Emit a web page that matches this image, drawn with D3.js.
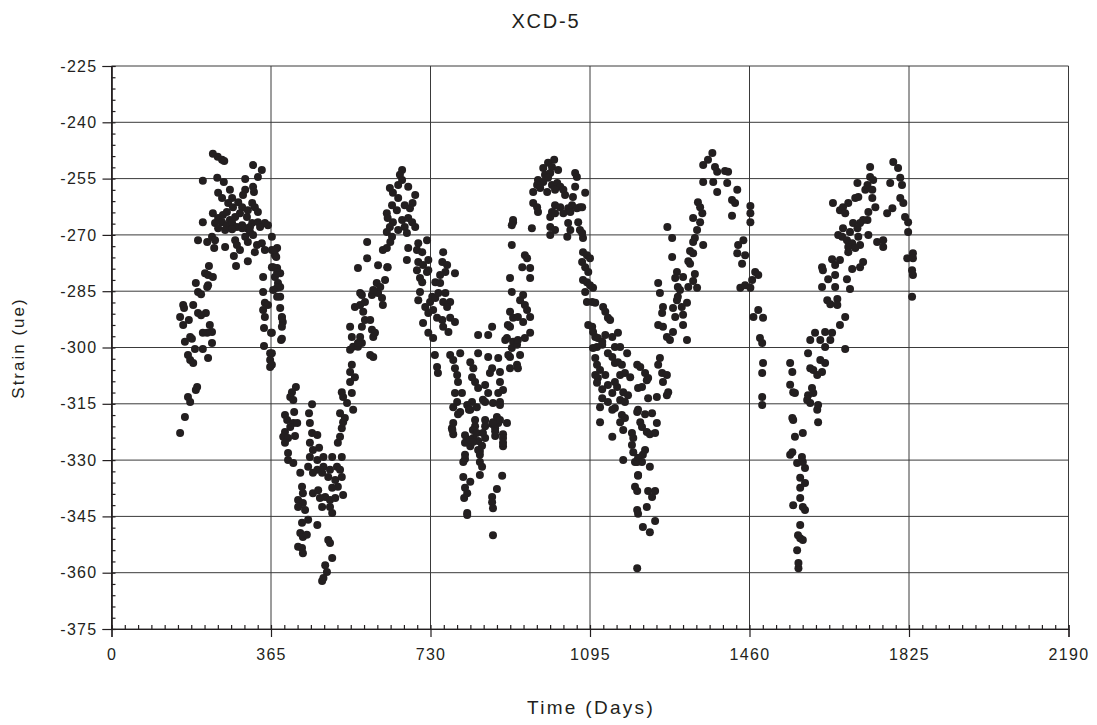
<!DOCTYPE html>
<html>
<head>
<meta charset="utf-8">
<title>XCD-5</title>
<script src="https://cdn.jsdelivr.net/npm/d3@7/dist/d3.min.js"></script>
<style>
  html, body { margin: 0; padding: 0; background: #fff; }
  svg { display: block; }
  text { font-family: "Liberation Sans", Arial, sans-serif; fill: #231f20; }
</style>
</head>
<body>
<svg id="chart" width="1097" height="725"></svg>
<script>
// Strain readings per seasonal swing: [day, strain (ue)]
const swing1 = [
  [232,-248.4],[243,-249.2],[253,-250.0],[258,-250.3],[324,-251.4],[344,-252.7],[209,-255.6],[242,-254.8],[257,-255.9],[306,-255.1],
  [335,-254.6],[324,-257.2],[306,-258.0],[301,-259.4],[326,-258.6],[244,-258.8],[271,-258.0],[253,-260.2],[276,-260.2],[267,-261.5],
  [278,-262.6],[290,-261.3],[299,-262.6],[322,-261.5],[328,-262.6],[312,-263.4],[335,-263.9],[310,-265.2],[294,-264.2],[232,-264.2],
  [244,-265.5],[255,-264.7],[264,-263.9],[271,-266.0],[283,-265.2],[209,-266.6],[237,-266.8],[253,-266.6],[264,-267.4],[276,-266.8],
  [287,-267.9],[299,-267.4],[310,-268.2],[322,-266.8],[335,-266.6],[351,-266.8],[358,-267.4],[244,-268.2],[260,-268.7],[276,-268.5],
  [299,-268.2],[317,-269.2],[306,-270.5],[324,-270.0],[340,-267.9],[317,-267.9],[367,-270.5],[198,-271.4],[219,-271.9],[230,-270.5],
  [237,-271.4],[235,-273.5],[260,-273.2],[283,-271.4],[287,-272.7],[294,-274.0],[312,-271.9],[333,-272.7],[328,-274.6],[344,-272.2],
  [351,-274.0],[367,-274.0],[374,-275.4],[379,-273.5],[280,-275.6],[285,-278.3],[312,-277.0],[367,-278.6],[379,-278.8],[386,-280.2],
  [374,-281.2],[381,-282.8],[386,-283.9],[379,-284.1],[386,-286.5],[390,-291.9],[392,-293.2],[390,-294.5],[388,-298.0],[379,-286.5],
  [347,-281.2],[347,-285.2],[351,-288.1],[358,-288.7],[347,-290.0],[351,-291.9],[349,-294.8],[365,-296.1],[349,-299.6],[363,-301.5],
  [363,-303.3],[363,-305.2],[223,-278.3],[214,-280.2],[221,-280.7],[232,-281.2],[221,-283.4],[193,-282.8],[198,-285.2],[205,-285.8],
  [219,-283.9],[164,-288.7],[166,-289.5],[187,-288.7],[157,-291.9],[177,-292.7],[164,-294.0],[198,-290.8],[216,-290.8],[205,-291.4],
  [225,-294.0],[230,-295.9],[219,-296.1],[209,-296.1],[180,-297.2],[184,-297.7],[168,-298.5],[230,-298.8],[209,-300.4],[191,-300.4],
  [175,-302.0],[180,-303.3],[187,-304.1],[221,-302.8],[196,-310.5],[193,-311.3],[175,-313.2],[180,-314.5],[168,-318.5],[157,-322.8],
  [374,-274.1],[377,-275.9],[370,-278.6],[379,-280.0],[370,-284.7],[386,-289.5],[390,-292.1],[390,-297.7],[367,-296.1],[367,-301.5],
  [367,-304.6]
];

const swing2 = [
  [422,-310.5],[413,-311.9],[409,-313.2],[416,-314.0],[459,-315.1],[452,-317.5],[418,-317.2],[397,-318.0],[402,-319.3],[416,-320.1],
  [425,-320.1],[409,-321.2],[397,-322.5],[393,-323.8],[404,-324.1],[420,-323.6],[397,-325.4],[404,-328.1],[404,-330.0],[416,-330.8],
  [432,-333.4],[454,-320.1],[459,-322.8],[471,-323.3],[454,-325.4],[461,-327.3],[475,-326.7],[454,-329.2],[471,-330.0],[485,-329.2],
  [505,-329.2],[450,-331.8],[471,-332.6],[485,-331.8],[500,-332.6],[516,-331.8],[527,-329.2],[523,-332.6],[461,-333.4],[482,-333.4],
  [496,-334.5],[512,-335.3],[527,-334.5],[518,-337.1],[530,-339.3],[505,-337.4],[489,-339.8],[477,-340.1],[461,-338.8],[473,-338.0],
  [500,-340.6],[512,-340.1],[500,-342.5],[505,-344.1],[482,-342.5],[436,-337.1],[438,-338.8],[427,-340.6],[438,-341.4],[427,-342.5],
  [443,-343.3],[450,-345.9],[436,-346.7],[432,-349.4],[438,-350.5],[447,-349.9],[427,-353.1],[436,-353.4],[438,-354.8],[471,-347.3],
  [496,-351.3],[500,-352.1],[505,-356.1],[489,-358.0],[493,-359.8],[485,-361.4],[482,-362.2],
  [518,-325.4],[523,-323.8],[527,-321.5],[530,-319.9],[534,-318.8],[523,-317.5],[553,-316.6],[539,-314.8],[530,-313.2],[527,-311.9],
  [550,-312.1],[546,-309.2],[557,-307.9],[546,-306.5],[550,-304.6],[546,-300.6],[553,-299.8],[564,-299.8],[573,-298.8],[592,-302.0],
  [599,-302.5],[546,-294.5],[550,-297.2],[564,-298.8],[569,-297.2],[557,-289.2],[569,-288.7],[576,-290.5],[580,-292.7],[573,-294.5],
  [592,-292.7],[596,-295.3],[599,-297.2],[603,-296.1],[569,-285.5],[573,-286.0],[580,-287.9],[585,-276.2],[564,-278.8],[610,-278.1],
  [607,-282.8],[610,-285.5],[619,-286.8],[621,-288.7],[596,-286.0],[599,-284.7],[615,-283.9],[631,-278.6],[585,-271.9],[621,-274.0],
  [638,-271.9],
  [665,-252.7],[660,-254.0],[665,-255.4],[656,-256.7],[637,-257.5],[679,-257.2],[644,-258.8],[695,-259.4],[656,-260.2],[642,-262.1],
  [671,-262.1],[689,-261.5],[683,-262.9],[653,-263.4],[630,-264.2],[632,-265.5],[644,-266.6],[665,-266.0],[679,-265.5],[688,-266.6],
  [695,-267.9],[671,-267.9],[656,-268.7],[637,-267.9],[630,-269.2],[642,-270.5],[676,-269.5],[630,-273.5],[632,-278.6],[626,-282.0],
  [679,-273.5],[676,-276.7],
  [702,-272.2],[699,-274.0],[711,-274.6],[722,-271.4],[702,-277.2],[713,-278.0],[699,-279.4],[725,-276.7],[722,-279.9],[706,-281.5],
  [711,-282.6],[725,-279.4],[759,-274.6],[757,-277.2],[768,-278.0],[764,-279.9],[752,-280.7],[786,-280.2],[741,-282.6],[752,-282.8],
  [706,-285.2],[702,-287.4],[718,-289.2],[729,-287.9],[734,-286.5],[741,-286.8],[748,-285.5],[764,-285.5],[759,-287.9],[775,-287.9],
  [768,-289.2],[736,-290.0],[725,-290.8],[745,-292.1],[757,-292.7],[713,-293.5],[725,-296.1],[736,-297.5],[759,-294.5],[771,-295.9],
  [775,-292.1],[786,-293.2]
];

const swing3 = [
  [740,-302.0],[745,-305.2],[747,-306.8],[775,-302.0],[782,-303.3],[786,-305.5],[791,-307.3],[793,-309.2],[798,-301.5],[821,-303.9],
  [828,-305.5],[825,-307.9],[832,-309.2],[839,-310.8],[855,-310.0],[866,-306.8],[871,-305.5],[889,-306.5],[889,-309.2],[896,-311.3],
  [885,-312.1],[889,-314.5],[862,-312.1],[850,-313.9],[786,-312.1],[802,-312.1],[791,-314.5],[798,-317.2],[825,-314.5],[836,-315.9],
  [821,-316.6],[779,-321.5],[782,-323.1],[832,-321.0],[855,-321.0],[871,-320.4],[885,-320.1],[878,-321.5],[896,-323.1],[896,-326.3],
  [878,-323.6],[855,-324.1],[839,-324.9],[828,-324.1],[821,-326.3],[809,-325.4],[843,-327.6],[809,-329.7],
  [782,-315.9],[793,-317.8],[814,-315.3],[818,-316.6],[855,-314.5],[873,-314.8],[889,-315.3],[782,-320.1],[780,-322.0],[832,-319.3],
  [855,-319.3],[873,-319.9],[882,-318.5],[889,-319.3],[905,-320.1],[809,-323.4],[827,-322.0],[836,-322.8],[820,-324.6],[827,-325.2],
  [850,-322.8],[878,-322.3],[896,-324.1],[896,-325.4],[848,-326.2],[839,-327.3],[843,-328.6],[809,-328.6],[805,-330.5],[843,-330.5],
  [848,-331.8],[843,-334.0],[805,-334.5],[821,-335.8],[894,-334.2],[809,-337.4],[814,-338.8],[882,-337.7],[871,-339.8],[871,-341.2],
  [807,-340.1],[873,-342.8],[814,-344.1],[814,-344.6],[873,-350.0],
  [919,-266.6],[916,-272.7],[912,-281.5],[916,-285.2],[912,-290.5],[907,-294.0],[871,-294.5],[862,-296.7],[839,-296.7],[919,-298.5],
  [901,-298.0],[916,-300.1],[912,-302.5],[885,-302.8],[862,-302.5],[839,-301.5],
  [946,-275.4],[951,-276.2],[940,-278.6],[958,-278.8],[958,-281.5],[942,-286.0],[935,-287.4],[946,-288.7],[951,-290.0],[958,-291.9],
  [919,-292.1],[930,-291.9],[942,-293.2],[912,-294.5],[905,-297.5],[908,-302.0],[912,-305.5],[928,-299.3],[935,-302.0],[946,-297.5],
  [958,-296.1],[930,-298.0],[928,-304.6],[930,-305.5],
  [1013,-250.0],[999,-250.8],[1008,-251.9],[988,-252.2],[1022,-252.7],[992,-254.0],[1004,-253.5],[976,-255.4],[988,-255.9],[999,-254.8],
  [974,-256.7],[1008,-256.7],[1020,-256.2],[1027,-257.2],[1034,-258.0],[965,-258.6],[981,-257.5],[997,-258.6],[1015,-258.0],[1038,-259.4],
  [1061,-253.5],[1065,-254.6],[1061,-257.2],[1084,-258.8],[1056,-259.9],[1054,-262.1],[1065,-262.9],[1072,-262.6],[1077,-262.6],[1015,-262.1],
  [1027,-262.6],[965,-261.5],[974,-262.6],[976,-263.9],[1008,-263.9],[1004,-265.2],[1015,-264.2],[1034,-264.2],[1045,-262.9],[1050,-263.9],
  [919,-266.0],[916,-267.4],[962,-268.2],[1004,-267.9],[1015,-268.7],[1045,-266.8],[1050,-268.7],[1068,-266.6],[1004,-270.0],[1043,-270.5],
  [1072,-268.7],[1079,-270.8],[1077,-269.5],
  [1079,-274.6],[1088,-275.4],[1095,-276.2],[1077,-277.2],[1084,-278.6],[1091,-279.9],[1079,-282.0],[1088,-282.6],[1095,-283.4],[1102,-284.1],
  [1084,-285.2],[1088,-287.9],[1100,-287.9],[1107,-288.1],[1125,-289.2],[1130,-290.5],[1136,-292.1],[1141,-292.7],[1091,-294.0],[1100,-294.5],
  [1102,-295.9],[1107,-297.2],[1113,-297.5],[1123,-298.5],[1130,-296.7],[1146,-297.2],[1159,-296.1],[1111,-299.9],[1123,-299.3],[1102,-300.1],
  [1152,-299.9],[1164,-299.9],[1180,-301.5]
];

const swing4 = [
  [1107,-302.8],[1111,-304.6],[1107,-307.3],[1118,-306.0],[1113,-308.1],[1130,-307.3],[1136,-301.5],[1146,-302.5],[1152,-304.1],[1159,-303.9],
  [1168,-304.6],[1164,-307.3],[1175,-306.8],[1187,-307.9],[1136,-310.0],[1146,-312.1],[1157,-310.5],[1152,-309.2],[1123,-311.1],[1111,-309.4],
  [1123,-313.5],[1118,-315.9],[1136,-314.5],[1146,-316.6],[1152,-316.1],[1164,-314.0],[1171,-311.9],[1175,-314.5],[1182,-312.7],[1168,-318.0],
  [1175,-318.8],[1171,-322.0],[1146,-323.8],[1118,-319.9],[1164,-319.9],[1203,-304.6],[1205,-310.8],[1203,-317.2],[1191,-322.8],[1194,-324.1],
  [1191,-326.0],[1194,-327.9],[1171,-330.0],[1198,-330.5],[1205,-334.0],[1198,-337.1],[1203,-343.3],
  [1210,-305.2],[1221,-306.8],[1228,-308.1],[1214,-310.5],[1225,-308.7],[1255,-302.8],[1251,-304.6],[1260,-306.8],[1271,-307.3],[1262,-309.2],
  [1274,-311.9],[1271,-312.7],[1248,-313.2],[1228,-313.5],[1205,-316.6],[1221,-317.8],[1237,-317.5],[1248,-320.1],[1210,-319.9],[1214,-321.2],
  [1225,-322.5],[1232,-323.1],[1244,-322.8],[1221,-327.3],[1216,-328.6],[1205,-329.4],[1203,-330.5],[1214,-330.5],[1232,-331.8],[1205,-334.2],
  [1203,-338.2],[1228,-338.2],[1244,-338.2],[1237,-339.8],[1225,-342.5],[1205,-344.3],[1244,-346.2],[1216,-347.8],[1232,-349.2],[1203,-358.8],
  [1251,-282.8],[1255,-285.5],[1262,-289.2],[1260,-290.8],[1251,-294.0],[1262,-294.5],[1271,-297.2],[1278,-298.0],[1285,-295.9],[1290,-291.9],
  [1285,-289.5],[1294,-287.4],[1296,-286.5],[1305,-289.2],[1308,-291.3],[1308,-294.0],[1317,-298.0],[1317,-288.1],
  [1375,-248.2],[1365,-250.0],[1354,-251.4],[1381,-251.9],[1386,-253.2],[1404,-253.0],[1411,-253.2],[1354,-255.9],[1377,-255.9],[1386,-258.6],
  [1409,-256.2],[1432,-258.0],[1420,-260.7],[1427,-261.5],[1342,-261.3],[1347,-262.6],[1352,-264.2],[1331,-265.5],[1347,-266.6],[1340,-268.7],
  [1335,-270.8],[1331,-271.9],[1354,-272.7],[1324,-274.3],[1331,-274.9],[1320,-277.0],[1324,-277.7],[1335,-280.4],[1331,-282.3],[1340,-284.1],
  [1294,-279.9],[1290,-281.5],[1308,-281.2],[1296,-283.9],[1301,-284.7],[1320,-283.9],[1272,-267.9],[1283,-270.8],[1283,-275.9],[1420,-264.9],
  [1462,-262.3],[1462,-264.2],[1462,-266.6],[1446,-271.4],[1434,-272.7],[1432,-274.9],[1450,-275.4],[1443,-277.7],[1439,-284.1],[1450,-283.4],
  [1462,-284.1],[1466,-282.0],[1473,-279.9],[1480,-280.7],[1469,-291.9],[1480,-290.0],[1491,-292.1],[1484,-297.5],[1489,-298.8],[1491,-304.1],
  [1489,-306.8],[1489,-313.2],[1489,-315.3]
];

const swing5 = [
  [1572,-358.8],[1572,-357.4],[1569,-354.0],[1576,-350.8],[1582,-351.3],[1571,-350.0],[1576,-347.3],[1587,-343.3],[1582,-342.5],[1560,-342.0],
  [1576,-340.1],[1576,-337.4],[1587,-336.1],[1576,-334.7],[1569,-330.8],[1587,-332.1],[1582,-330.5],[1580,-329.2],[1558,-327.9],[1553,-328.6],
  [1564,-323.8],[1582,-322.8],[1560,-319.3],[1558,-318.8],[1617,-319.9],[1615,-316.6],[1617,-315.3],[1599,-314.8],[1592,-314.0],[1594,-312.7],
  [1606,-312.1],[1603,-310.8],[1615,-307.3],[1606,-306.0],[1626,-306.5],[1633,-304.1],[1622,-303.3],[1599,-305.5],[1594,-301.5],[1599,-298.0],
  [1610,-296.1],[1622,-298.0],[1633,-295.9],[1649,-296.1],[1645,-298.0],[1633,-299.9],[1679,-300.4],[1553,-304.1],[1558,-306.5],[1553,-309.9],
  [1560,-311.9],[1564,-312.1],
  [1651,-261.5],[1667,-263.4],[1674,-262.6],[1686,-261.5],[1679,-264.2],[1702,-260.2],[1707,-256.2],[1709,-259.9],[1725,-258.0],[1730,-256.7],
  [1736,-251.9],[1736,-254.6],[1743,-255.4],[1741,-258.0],[1741,-260.2],[1748,-262.6],[1732,-263.9],[1730,-266.0],[1720,-266.0],[1713,-266.8],
  [1697,-266.8],[1707,-268.2],[1690,-269.2],[1674,-268.2],[1663,-270.0],[1672,-270.5],[1683,-271.4],[1695,-272.2],[1713,-272.7],[1686,-273.2],
  [1686,-274.6],[1702,-273.5],[1709,-270.5],[1732,-270.0],[1752,-271.9],[1766,-271.4],[1766,-273.2],[1775,-264.2],[1787,-262.9],[1782,-256.2],
  [1789,-250.6],[1800,-252.2],[1805,-254.8],[1809,-256.7],[1805,-260.2],[1812,-261.5],[1816,-265.2],[1823,-266.6],[1823,-269.2],[1821,-276.2],
  [1834,-274.9],[1834,-276.2],[1832,-279.4],[1834,-280.7],[1832,-286.5],[1649,-276.5],[1656,-278.0],[1667,-276.7],[1626,-278.6],[1628,-279.4],
  [1656,-280.7],[1640,-281.8],[1626,-283.9],[1656,-283.9],[1638,-287.4],[1645,-288.5],[1661,-287.1],[1661,-288.7],[1683,-281.8],[1690,-284.4],
  [1720,-277.2],[1713,-278.6],[1695,-279.1],[1679,-291.9],[1667,-294.0]
];

// Axis ticks
const dayTicks = [0, 365, 730, 1095, 1460, 1825, 2190];
const strainTicks = [-225, -240, -255, -270, -285, -300, -315, -330, -345, -360, -375];

const titleText = "XCD-5";
const xTitle = "Time (Days)";
const yTitle = "Strain (ue)";

const svg = d3.select("#chart");
const plotLeft = 111.5, plotRight = 1068.5, plotTop = 66, plotBottom = 629;

const x = d3.scaleLinear().domain([0, 2190]).range([plotLeft, plotRight]);
const y = d3.scaleLinear().domain([-375, -225]).range([plotBottom, plotTop]);

const ink = "#231f20";
const fmt = v => String(v); // plain hyphen-minus labels

// Minor tick positions: 12 steps per 365-day interval, 5 steps per 15 ue
const dayMinor = d3.range(0, 2190 + 1e-6, 365 / 12);
const strainMinor = d3.range(-375, -225 + 1e-6, 3);

// Grid lines
const grid = svg.append("g");
grid.selectAll("line.v").data(dayTicks).join("line")
  .attr("class", "v")
  .attr("x1", d => x(d)).attr("x2", d => x(d))
  .attr("y1", plotTop).attr("y2", plotBottom)
  .attr("stroke", "#3a3a3a").attr("stroke-width", 1);
grid.selectAll("line.h").data(strainTicks).join("line")
  .attr("class", "h")
  .attr("x1", plotLeft).attr("x2", plotRight)
  .attr("y1", d => y(d)).attr("y2", d => y(d))
  .attr("stroke", "#3a3a3a").attr("stroke-width", 1);

// Points
const allPoints = [].concat(swing1, swing2, swing3, swing4, swing5);
svg.append("g").selectAll("circle").data(allPoints).join("circle")
  .attr("cx", d => x(d[0]))
  .attr("cy", d => y(d[1]))
  .attr("r", 4)
  .attr("fill", ink);

// Minor ticks (inside the plot)
const minorY = svg.append("g").attr("transform", `translate(${plotLeft},0)`)
  .call(d3.axisLeft(y).tickValues(strainMinor).tickSize(-4).tickFormat(""));
const minorX = svg.append("g").attr("transform", `translate(0,${plotBottom})`)
  .call(d3.axisBottom(x).tickValues(dayMinor).tickSize(-4).tickFormat(""));

// Major ticks and labels
const yAxis = svg.append("g").attr("transform", `translate(${plotLeft},0)`)
  .call(d3.axisLeft(y).tickValues(strainTicks).tickSize(9).tickPadding(5).tickFormat(fmt));
const xAxis = svg.append("g").attr("transform", `translate(0,${plotBottom})`)
  .call(d3.axisBottom(x).tickValues(dayTicks).tickSize(8).tickPadding(12).tickFormat(fmt));

[minorY, minorX, yAxis, xAxis].forEach(g => {
  g.selectAll("path.domain").attr("stroke", ink).attr("stroke-width", 1.2);
  g.selectAll(".tick line").attr("stroke", ink).attr("stroke-width", 1.2);
});
[yAxis, xAxis].forEach(g => {
  g.selectAll("text")
    .attr("fill", ink)
    .style("font-family", '"Liberation Sans", Arial, sans-serif')
    .style("font-size", "16px")
    .style("letter-spacing", "1.3px");
});

// Titles
svg.append("text")
  .attr("x", 546).attr("y", 28)
  .attr("text-anchor", "middle")
  .style("font-size", "20px").style("letter-spacing", "1.8px")
  .text(titleText);

svg.append("text")
  .attr("x", 591).attr("y", 714)
  .attr("text-anchor", "middle")
  .style("font-size", "19px").style("letter-spacing", "2.3px")
  .text(xTitle);

svg.append("text")
  .attr("transform", "translate(24,348) rotate(-90)")
  .attr("text-anchor", "middle")
  .style("font-size", "17px").style("letter-spacing", "2px")
  .text(yTitle);
</script>
</body>
</html>
